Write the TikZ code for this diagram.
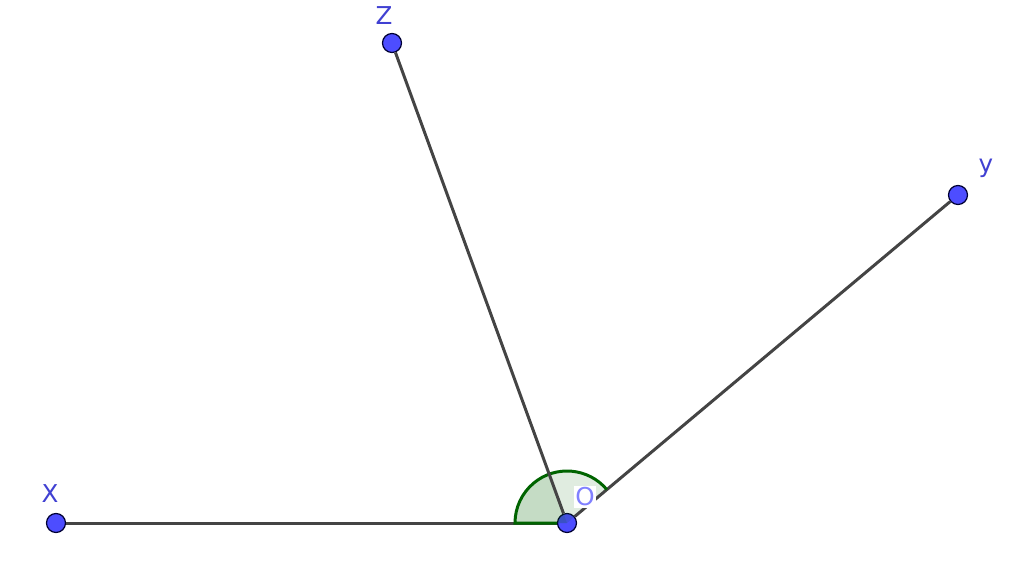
\documentclass[tikz,border=0pt]{standalone}
\usepackage{fontspec}
\setmainfont{DejaVu Sans}
\usetikzlibrary{calc}
\definecolor{ptblue}{RGB}{77,77,255}
\definecolor{lblblue}{RGB}{64,64,210}
\definecolor{oblue}{RGB}{128,128,255}
\definecolor{angreen}{RGB}{0,100,0}
\definecolor{seggray}{RGB}{68,68,68}

\begin{document}
\begin{tikzpicture}[x=0.02cm,y=-0.02cm,
    pt/.style={circle,fill=ptblue,draw=black!80!blue,line width=0.7pt,minimum size=0.38cm,inner sep=0pt},
    lbl/.style={text=lblblue,font=\fontsize{14}{16}\selectfont,inner sep=0pt},
    seg/.style={draw=seggray,line width=1.7pt},
    arcline/.style={draw=angreen,line width=1.7pt}]

\useasboundingbox (0,0) rectangle (1024,576);

%angle info (y axis points down, so angles are negated)
\def\rad{52}
\def\thetaZ{-110}
\def\thetaY{-40}

%points
\node[pt] (O) at (567,523) {};
\node[pt] (X) at (56,523) {};
\node[pt] (Z) at (392,43) {};
\node[pt] (Y) at (958,195) {};

%fill sectors
\fill[angreen,opacity=0.12] (O.center) -- ++(\thetaY:\rad) arc[start angle=\thetaY,end angle=-180,radius=\rad] -- cycle;
\fill[angreen,opacity=0.12] (O.center) -- ++(\thetaZ:\rad) arc[start angle=\thetaZ,end angle=-180,radius=\rad] -- cycle;

%draw edges
\draw[seg] (O) -- (X);
\draw[seg] (O) -- (Y);

%draw arcs
\draw[arcline] ($(O.center)+(\thetaY:\rad)$) arc[start angle=\thetaY,end angle=-180,radius=\rad] -- (O);
\draw[seg] (O) -- (Z);

%labels
\node[lbl] (lX) at (50,494) {X};
\node[lbl] (lZ) at (384,16) {Z};
\node[lbl] (lY) at (986,168) {y};
\node[lbl,text=oblue,fill=white,inner sep=1pt] (lO) at (585,497) {O};

\end{tikzpicture}
\end{document}
